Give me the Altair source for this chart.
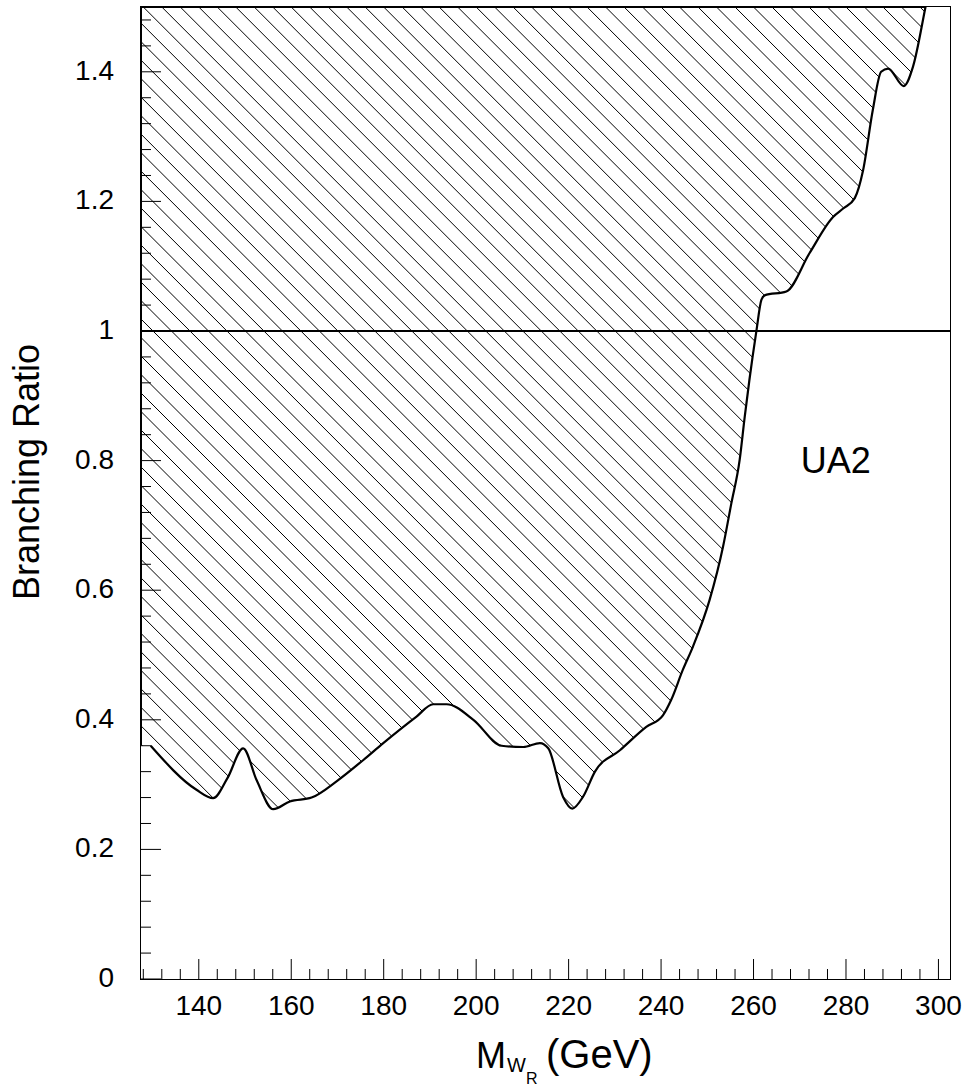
import altair as alt
import numpy as np
import pandas as pd

# Upper limit on the branching ratio versus the right-handed W mass (UA2)
MASS = [129.6, 139.5, 143.1, 146.2, 149.6, 152.5, 156.1, 159.7, 164.4, 169.8,
        175.6, 179.9, 187.1, 190.7, 193.6, 199.4, 205.5, 210.2, 213.8, 215.6,
        218.8, 220.8, 223.1, 225.7, 231.1, 236.8, 240.4, 242.2, 244.7, 246.9,
        250.5, 253.4, 255.2, 257.0, 258.1, 259.1, 260.6, 261.7, 262.4, 267.1,
        272.1, 277.2, 279.4, 281.9, 283.7, 285.8, 287.6, 289.1, 292.5, 294.5,
        297.2, 302.5]
BR = [0.360, 0.292, 0.279, 0.310, 0.356, 0.307, 0.262, 0.274, 0.280, 0.305,
      0.338, 0.364, 0.405, 0.424, 0.424, 0.400, 0.360, 0.358, 0.364, 0.356,
      0.281, 0.263, 0.281, 0.320, 0.353, 0.389, 0.407, 0.431, 0.477, 0.513,
      0.585, 0.667, 0.734, 0.801, 0.868, 0.924, 0.999, 1.048, 1.055, 1.061,
      1.120, 1.176, 1.189, 1.205, 1.248, 1.341, 1.400, 1.405, 1.378, 1.408,
      1.500, 1.700]
# closing point of the allowed region at the left frame edge
EDGE_MASS = [127.5]
EDGE_BR = [0.360]

UNITY = [1.0]
LABEL = ["UA2"]

X_MAJOR = [140, 160, 180, 200, 220, 240, 260, 280, 300]
X_MINOR = [v for v in range(128, 301, 4) if v not in X_MAJOR]
Y_MAJOR = [0, 0.2, 0.4, 0.6, 0.8, 1.0, 1.2, 1.4]
Y_MINOR = [round(0.04 * i, 2) for i in range(1, 38) if i % 5]

X_MIN, X_MAX = 127.5, 302.5
Y_MIN, Y_MAX = 0.0, 1.5
WIDTH, HEIGHT = 809, 972
FONT = "Liberation Sans"

curve = pd.DataFrame({"mass": MASS, "br": BR})
region = pd.DataFrame({"mass": EDGE_MASS + MASS, "br": EDGE_BR + BR})

# 45-degree hatch lines, one every 4 GeV along the top frame
run = (X_MAX - X_MIN) * HEIGHT / WIDTH
starts = np.arange(128 - 4 * 54, X_MAX + 4, 4)
hatch_df = pd.DataFrame({"x0": starts, "x1": starts + run,
                         "y0": Y_MAX, "y1": Y_MIN})

xs = alt.Scale(domain=[X_MIN, X_MAX], nice=False, zero=False)
ys = alt.Scale(domain=[Y_MIN, Y_MAX], nice=False, zero=False)


def X(field):
    return alt.X(field, scale=xs, axis=None)


def Y(field):
    return alt.Y(field, scale=ys, axis=None)


hatch = alt.Chart(hatch_df).mark_rule(clip=True, color="black", strokeWidth=1).encode(
    x=X("x0:Q"), x2="x1:Q", y=Y("y0:Q"), y2="y1:Q")

allowed = alt.Chart(region).mark_area(clip=True, color="white", opacity=1,
                                      interpolate="monotone").encode(
    x=X("mass:Q"), y=Y("br:Q"))

limit = alt.Chart(curve).mark_line(clip=True, color="black", strokeWidth=2.2,
                                   interpolate="monotone").encode(
    x=X("mass:Q"), y=Y("br:Q"))

unity = alt.Chart(pd.DataFrame({"br": UNITY})).mark_rule(color="black", strokeWidth=2).encode(
    y=Y("br:Q"))


def y_ticks(values, length):
    return alt.Chart(pd.DataFrame({"v": values})).mark_rule(color="black", strokeWidth=1).encode(
        y=Y("v:Q"), x=alt.value(0), x2=alt.value(length))


def x_ticks(values, length):
    return alt.Chart(pd.DataFrame({"v": values})).mark_rule(color="black", strokeWidth=1).encode(
        x=X("v:Q"), y=alt.value(HEIGHT), y2=alt.value(HEIGHT - length))


x_labels = alt.Chart(pd.DataFrame({"v": X_MAJOR})).mark_text(
    font=FONT, fontSize=28, color="black", align="center", baseline="top").encode(
    x=X("v:Q"), y=alt.value(HEIGHT + 14), text=alt.Text("v:Q", format="d"))

y_labels = alt.Chart(pd.DataFrame({"v": Y_MAJOR})).mark_text(
    font=FONT, fontSize=28, color="black", align="right", baseline="middle").encode(
    y=Y("v:Q"), x=alt.value(-27), text=alt.Text("v:Q", format="~g"))

ua2 = alt.Chart(pd.DataFrame({"t": LABEL, "mass": [277.8], "br": [0.798]})).mark_text(
    font=FONT, fontSize=36, color="black", align="center", baseline="middle").encode(
    x=X("mass:Q"), y=Y("br:Q"), text="t:N")


def label(text, x, y, size, **kw):
    return alt.Chart(pd.DataFrame({"t": [text]})).mark_text(
        font=FONT, fontSize=size, color="black", **kw).encode(
        x=alt.value(x), y=alt.value(y), text="t:N")


x_title = [
    label("M", 335, 1061, 36, align="left", baseline="alphabetic"),
    label("W", 366, 1065, 20, align="left", baseline="alphabetic"),
    label("R", 385, 1077, 16, align="left", baseline="alphabetic"),
    label("(GeV)", 405, 1061, 40, align="left", baseline="alphabetic"),
]
y_title = label("Branching Ratio", -113, 465, 36, align="center",
                baseline="middle", angle=270)

chart = alt.layer(
    hatch, allowed, limit, unity,
    y_ticks(Y_MAJOR, 20), y_ticks(Y_MINOR, 10),
    x_ticks(X_MAJOR, 20), x_ticks(X_MINOR, 10),
    x_labels, y_labels, ua2, y_title, *x_title,
).properties(
    width=WIDTH, height=HEIGHT,
    padding={"left": 141, "top": 7, "right": 20, "bottom": 112},
    autosize=alt.AutoSizeParams(type="none"),
    background="white",
).configure_view(stroke="black", strokeWidth=2)

chart.save("out.html", embed_options={"renderer": "svg", "actions": False})
